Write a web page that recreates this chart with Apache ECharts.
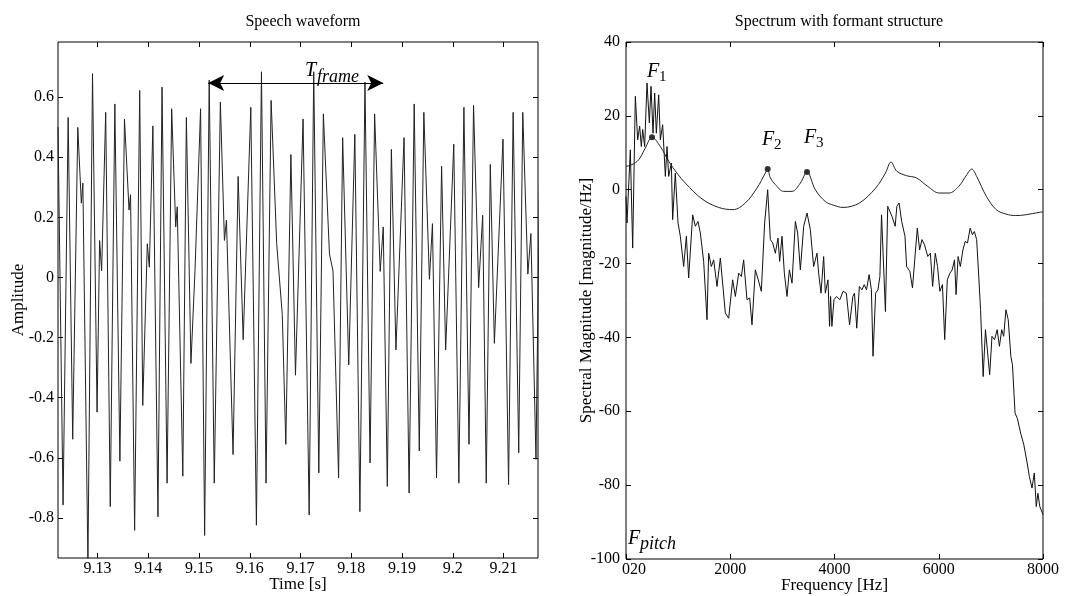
<!DOCTYPE html>
<html><head><meta charset="utf-8">
<script src="https://cdn.jsdelivr.net/npm/echarts@6/dist/echarts.min.js"></script>
<style>html,body{margin:0;padding:0;background:#fff}#c{width:1073px;height:596px}</style>
</head><body><div id="c"></div>
<script>
// ---- Left panel: speech waveform (time in s, amplitude) ----
const waveT = [9.1222,9.1232,9.1242,9.1251,9.1261,9.1268,9.1271,9.1281,9.1290,9.1299,9.1304,9.1308,9.1316,9.1325,9.1334,9.1344,9.1353,9.1362,9.1365,9.1373,9.1383,9.1389,9.1398,9.1402,9.1409,9.1419,9.1427,9.1437,9.1446,9.1454,9.1457,9.1468,9.1475,9.1484,9.1492,9.1503,9.1511,9.1520,9.1530,9.1542,9.1550,9.1554,9.1567,9.1577,9.1587,9.1602,9.1613,9.1623,9.1632,9.1642,9.1653,9.1664,9.1671,9.1681,9.1690,9.1705,9.1717,9.1726,9.1736,9.1745,9.1757,9.1764,9.1775,9.1783,9.1795,9.1807,9.1817,9.1827,9.1837,9.1846,9.1857,9.1863,9.1871,9.1879,9.1888,9.1904,9.1914,9.1924,9.1934,9.1943,9.1954,9.1960,9.1968,9.1978,9.1986,9.2002,9.2012,9.2022,9.2032,9.2041,9.2051,9.2059,9.2066,9.2074,9.2082,9.2099,9.2110,9.2119,9.2130,9.2138,9.2148,9.2154,9.2164,9.2171];
const waveA = [0.50,-0.757,0.532,-0.538,0.499,0.247,0.314,-0.95,0.678,-0.448,0.123,0.022,0.549,-0.762,0.577,-0.611,0.527,0.224,0.275,-0.841,0.622,-0.426,0.112,0.034,0.504,-0.796,0.633,-0.684,0.561,0.168,0.235,-0.661,0.532,-0.286,0.022,0.561,-0.858,0.656,-0.684,0.583,0.123,0.191,-0.589,0.336,-0.207,0.566,-0.824,0.684,-0.684,0.589,0.112,-0.123,-0.555,0.409,-0.325,0.527,-0.790,0.684,-0.650,0.544,0.078,0.022,-0.667,0.465,-0.291,0.476,-0.779,0.650,-0.617,0.544,0.020,0.168,-0.695,0.426,-0.241,0.465,-0.717,0.577,-0.577,0.549,-0.006,0.179,-0.667,0.370,-0.241,0.443,-0.684,0.566,-0.555,0.572,-0.034,0.207,-0.684,0.376,-0.219,0.460,-0.689,0.549,-0.583,0.549,0.011,0.146,-0.605,0.331];
const timeTicks = [9.13,9.14,9.15,9.16,9.17,9.18,9.19,9.20,9.21];
const ampTicks = [-0.8,-0.6,-0.4,-0.2,0,0.2,0.4,0.6];
const frameArrowT = [9.1518, 9.1863];
const frameArrowA = 0.647;

// ---- Right panel: spectrum (Hz, dB) ----
const specF = [0,19,83,128,179,224,262,294,320,358,403,448,480,518,550,582,627,659,703,755,787,819,870,895,946,998,1042,1106,1158,1202,1279,1330,1381,1426,1490,1554,1586,1637,1682,1746,1810,1906,1970,2046,2098,2162,2213,2257,2321,2373,2417,2481,2545,2596,2660,2718,2769,2814,2865,2916,2948,2993,3038,3089,3134,3185,3249,3293,3345,3409,3473,3536,3600,3664,3696,3741,3792,3824,3875,3905,3925,3950,3990,4039,4102,4164,4227,4289,4352,4383,4427,4477,4527,4570,4614,4664,4708,4739,4789,4833,4871,4902,4927,4977,5021,5058,5102,5164,5196,5239,5289,5352,5383,5446,5496,5539,5589,5633,5677,5727,5789,5839,5883,5933,5977,6021,6071,6114,6164,6214,6258,6302,6333,6371,6414,6464,6508,6552,6602,6646,6683,6727,6771,6802,6852,6896,6933,6977,7021,7071,7121,7164,7208,7246,7289,7333,7383,7414,7464,7508,7571,7633,7696,7739,7789,7833,7871,7902,7939,8000];
const specDb = [-1.8,-9.0,10.8,-15.8,25.3,13.5,17.2,11.7,16.3,11.7,28.9,18.1,28.0,15.3,26.2,15.3,25.7,13.5,17.6,3.6,11.7,3.6,7.2,-8.1,4.5,-9.0,-12.6,-20.8,-12.6,-23.9,-6.8,-9.9,-8.6,-11.7,-19.4,-35.2,-17.2,-20.8,-19.0,-26.2,-18.5,-33.4,-34.8,-24.4,-28.9,-22.6,-23.5,-19.0,-29.8,-29.3,-36.6,-21.7,-24.8,-27.5,-9.0,0.0,-13.5,-14.4,-17.2,-13.1,-19.4,-12.6,-22.6,-28.9,-21.7,-25.3,-8.6,-11.7,-21.7,-9.9,-6.3,-10.8,-20.8,-17.2,-22.6,-28.0,-18.1,-28.0,-24.4,-37.0,-28.9,-37.0,-29.8,-28.9,-29.8,-27.5,-28.0,-36.6,-28.9,-28.0,-37.5,-26.2,-27.1,-25.7,-27.1,-23.0,-27.1,-45.1,-28.0,-27.1,-23.5,-6.8,-6.3,-33.0,-4.5,-5.0,-7.2,-9.9,-4.5,-3.6,-8.6,-12.6,-20.8,-22.1,-26.6,-19.0,-10.4,-16.3,-13.5,-14.9,-18.1,-17.2,-26.2,-17.2,-20.8,-27.5,-25.7,-40.6,-24.4,-22.6,-21.7,-19.0,-28.4,-18.1,-20.8,-16.3,-14.0,-14.4,-10.4,-12.2,-11.3,-13.5,-24.4,-32.5,-50.6,-37.9,-37.5,-50.1,-39.7,-40.6,-37.9,-42.4,-37.9,-39.7,-32.5,-35.2,-45.1,-47.4,-60.5,-61.9,-65.9,-69.1,-74.0,-77.7,-80.8,-76.7,-85.8,-82.2,-85.8,-88.0];
const envF = [0,115,243,371,499,659,819,978,1138,1458,1778,2053,2289,2513,2673,2718,2769,2865,3025,3185,3345,3472,3632,3824,3984,4164,4477,4789,4977,5083,5196,5383,5571,5789,6008,6196,6383,6539,6633,6727,6914,7102,7289,7477,7664,7939,8000];
const envDb = [6.3,6.8,8.1,11.3,14.2,11.7,7.7,4.5,1.8,-2.5,-4.8,-5.4,-3.6,0.45,4.5,5.6,3.2,1.4,-0.45,-0.45,1.8,4.8,0,-3.2,-4.2,-4.8,-3.6,0.45,4.5,7.5,5.0,3.8,3.2,0.9,-0.9,-0.9,0.9,4.1,5.6,3.6,-1.8,-5.4,-6.6,-7.0,-6.8,-6.1,-6.0];
const formantF = [499, 2718, 3472];
const formantDb = [14.2, 5.6, 4.8];

// annotation anchors (data coordinates)
const tLabelAt = [9.1709, 0.684];
const fLabels = [
  {sub:'1', f:403, db:31.7},
  {sub:'2', f:2609, db:13.3},
  {sub:'3', f:3415, db:13.8},
  {sub:'pitch', f:38, db:-94.7}
];

const SERIF = "'Liberation Serif','DejaVu Serif',serif";
const chart = echarts.init(document.getElementById('c'), null, {renderer:'canvas'});
const zip = (a,b) => a.map((v,i)=>[v,b[i]]);
const tickStyle = {show:true, inside:true, length:5, lineStyle:{color:'#000', width:1}};
const lblStyle = {color:'#000', fontFamily:SERIF, fontSize:16};
const nameStyle = {fontFamily:SERIF, fontSize:17, color:'#000'};
const noLine = {show:false, onZero:false};

const option = {
  backgroundColor:'#fff',
  animation:false,
  title:[
    {text:'Speech waveform', left:298, top:9, textAlign:'center', textStyle:{fontFamily:SERIF, fontSize:16, fontWeight:'normal', color:'#000'}},
    {text:'Spectrum with formant structure', left:834, top:9, textAlign:'center', textStyle:{fontFamily:SERIF, fontSize:16, fontWeight:'normal', color:'#000'}}
  ],
  grid:[
    {left:58, top:42, width:480, height:516, show:true, borderColor:'#000', borderWidth:1, backgroundColor:'#fff', outerBoundsMode:'none', containLabel:false},
    {left:626, top:42, width:417, height:517, show:true, borderColor:'#000', borderWidth:1, backgroundColor:'#fff', outerBoundsMode:'none', containLabel:false}
  ],
  xAxis:[
    {type:'value', gridIndex:0, min:9.1222, max:9.2168, position:'bottom',
     axisLine:noLine, splitLine:{show:false},
     axisTick:Object.assign({customValues:timeTicks}, tickStyle),
     axisLabel:Object.assign({customValues:timeTicks, margin:3, formatter:v=>String(Math.round(v*100)/100)}, lblStyle),
     name:'Time [s]', nameLocation:'middle', nameGap:18, nameMoveOverlap:false, nameTextStyle:nameStyle},
    {type:'value', gridIndex:0, min:9.1222, max:9.2168, position:'top',
     axisLine:noLine, splitLine:{show:false},
     axisTick:Object.assign({customValues:timeTicks}, tickStyle), axisLabel:{show:false}},
    {type:'value', gridIndex:1, min:0, max:8000, interval:2000, position:'bottom',
     axisLine:noLine, splitLine:{show:false},
     axisTick:tickStyle,
     axisLabel:Object.assign({margin:3, formatter:v=> v===0 ? '{a|020}' : String(v),
        rich:{a:{fontFamily:SERIF, fontSize:16, color:'#000', padding:[0,0,0,16]}}}, lblStyle),
     name:'Frequency [Hz]', nameLocation:'middle', nameGap:18, nameMoveOverlap:false, nameTextStyle:nameStyle},
    {type:'value', gridIndex:1, min:0, max:8000, interval:2000, position:'top',
     axisLine:noLine, splitLine:{show:false}, axisTick:tickStyle, axisLabel:{show:false}}
  ],
  yAxis:[
    {type:'value', gridIndex:0, min:-0.933, max:0.783, position:'left',
     axisLine:noLine, splitLine:{show:false},
     axisTick:Object.assign({customValues:ampTicks}, tickStyle),
     axisLabel:Object.assign({customValues:ampTicks, margin:4, formatter:v=>String(Math.round(v*10)/10)}, lblStyle),
     name:'Amplitude', nameLocation:'middle', nameRotate:90, nameGap:31, nameMoveOverlap:false, nameTextStyle:nameStyle},
    {type:'value', gridIndex:0, min:-0.933, max:0.783, position:'right',
     axisLine:noLine, splitLine:{show:false},
     axisTick:Object.assign({customValues:ampTicks}, tickStyle), axisLabel:{show:false}},
    {type:'value', gridIndex:1, min:-100, max:40, interval:20, position:'left',
     axisLine:noLine, splitLine:{show:false}, axisTick:tickStyle,
     axisLabel:Object.assign({margin:6}, lblStyle),
     name:'Spectral Magnitude [magnitude/Hz]', nameLocation:'middle', nameRotate:90, nameGap:31, nameMoveOverlap:false, nameTextStyle:nameStyle},
    {type:'value', gridIndex:1, min:-100, max:40, interval:20, position:'right',
     axisLine:noLine, splitLine:{show:false}, axisTick:tickStyle, axisLabel:{show:false}}
  ],
  series:[
    {type:'line', xAxisIndex:0, yAxisIndex:0, data:zip(waveT,waveA), showSymbol:false,
     lineStyle:{color:'#222', width:1}, clip:true,
     markLine:{silent:true, symbol:['arrow','arrow'], symbolSize:[12,16],
       lineStyle:{color:'#000', width:1, type:'solid'}, label:{show:false},
       data:[[{coord:[frameArrowT[0],frameArrowA]},{coord:[frameArrowT[1],frameArrowA]}]]}},
    {type:'line', xAxisIndex:2, yAxisIndex:2, data:zip(specF,specDb), showSymbol:false,
     lineStyle:{color:'#111', width:1}, clip:true},
    {type:'line', xAxisIndex:2, yAxisIndex:2, data:zip(envF,envDb), showSymbol:false, smooth:0.35,
     lineStyle:{color:'#222', width:1}},
    {type:'scatter', xAxisIndex:2, yAxisIndex:2, data:zip(formantF,formantDb), symbolSize:6,
     itemStyle:{color:'#000'}}
  ]
};
chart.setOption(option);

// italic labels with subscripts, placed at data anchors
const g = [];
function addLabel(p, main, sub, subItalic){
  g.push({type:'text', left:p[0], top:p[1]-11, style:{text:main, font:'italic 20px '+SERIF, fill:'#000'}});
  const sf = subItalic ? 'italic 18px '+SERIF : '15px '+SERIF;
  g.push({type:'text', left:p[0]+12, top:p[1]-(subItalic?4:3), style:{text:sub, font:sf, fill:'#000'}});
}
addLabel(chart.convertToPixel({xAxisIndex:0, yAxisIndex:0}, tLabelAt), 'T', 'frame', true);
fLabels.forEach(l=>{
  addLabel(chart.convertToPixel({xAxisIndex:2, yAxisIndex:2}, [l.f, l.db]), 'F', l.sub, l.sub==='pitch');
});
chart.setOption({graphic:g});
</script>
</body></html>
